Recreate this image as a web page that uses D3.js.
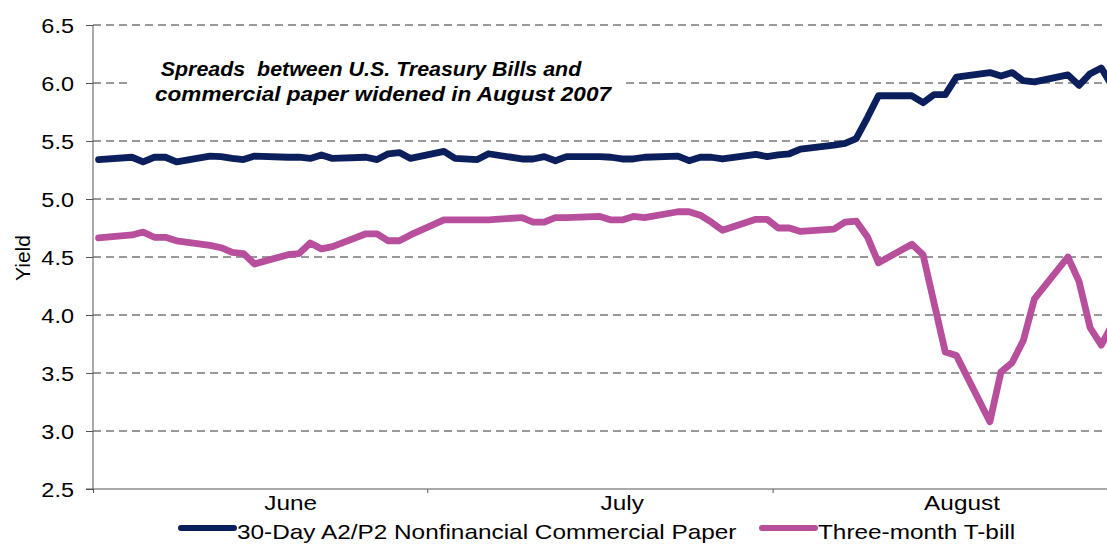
<!DOCTYPE html>
<html>
<head>
<meta charset="utf-8">
<script src="https://cdn.jsdelivr.net/npm/d3@7"></script>
<style>
  html, body { margin: 0; padding: 0; background: #fff; overflow: hidden; }
  svg { display: block; font-family: "Liberation Sans", Arial, sans-serif; }
</style>
</head>
<body>
<svg id="chart" width="1107" height="544"></svg>
<script>
// business days, June 1 - Aug 31 2007 (July 4 closed)
const dates = [
  '2007-06-01', '2007-06-04', '2007-06-05', '2007-06-06', '2007-06-07', '2007-06-08',
  '2007-06-11', '2007-06-12', '2007-06-13', '2007-06-14', '2007-06-15',
  '2007-06-18', '2007-06-19', '2007-06-20', '2007-06-21', '2007-06-22',
  '2007-06-25', '2007-06-26', '2007-06-27', '2007-06-28', '2007-06-29',
  '2007-07-02', '2007-07-03', '2007-07-05', '2007-07-06',
  '2007-07-09', '2007-07-10', '2007-07-11', '2007-07-12', '2007-07-13',
  '2007-07-16', '2007-07-17', '2007-07-18', '2007-07-19', '2007-07-20',
  '2007-07-23', '2007-07-24', '2007-07-25', '2007-07-26', '2007-07-27',
  '2007-07-30', '2007-07-31', '2007-08-01', '2007-08-02', '2007-08-03',
  '2007-08-06', '2007-08-07', '2007-08-08', '2007-08-09', '2007-08-10',
  '2007-08-13', '2007-08-14', '2007-08-15', '2007-08-16', '2007-08-17',
  '2007-08-20', '2007-08-21', '2007-08-22', '2007-08-23', '2007-08-24',
  '2007-08-27', '2007-08-28', '2007-08-29', '2007-08-30', '2007-08-31'
];

const paperYield = [
  5.34, 5.36, 5.32, 5.36, 5.36, 5.32,
  5.37, 5.365, 5.35, 5.34, 5.37,
  5.36, 5.36, 5.35, 5.38, 5.35,
  5.36, 5.34, 5.39, 5.40, 5.35,
  5.41, 5.35, 5.34, 5.39,
  5.345, 5.345, 5.365, 5.33, 5.365,
  5.365, 5.36, 5.345, 5.345, 5.36,
  5.37, 5.33, 5.36, 5.36, 5.345,
  5.385, 5.365, 5.38, 5.39, 5.43,
  5.465, 5.48, 5.52, 5.70, 5.89,
  5.89, 5.83, 5.90, 5.90, 6.05,
  6.09, 6.06, 6.09, 6.02, 6.01,
  6.07, 5.98, 6.08, 6.13, 5.97
];

const billYield = [
  4.665, 4.69, 4.715, 4.67, 4.67, 4.64,
  4.60, 4.58, 4.54, 4.53, 4.44,
  4.52, 4.53, 4.62, 4.57, 4.59,
  4.70, 4.70, 4.64, 4.64, 4.69,
  4.82, 4.82, 4.82, 4.82,
  4.84, 4.80, 4.80, 4.84, 4.84,
  4.85, 4.82, 4.82, 4.85, 4.84,
  4.89, 4.89, 4.86, 4.80, 4.73,
  4.825, 4.825, 4.75, 4.75, 4.72,
  4.74, 4.80, 4.81, 4.675, 4.45,
  4.61, 4.52, 4.10, 3.68, 3.65,
  3.08, 3.51, 3.59, 3.78, 4.14,
  4.50, 4.29, 3.89, 3.74, 3.92
];

const yTicks = [2.5, 3.0, 3.5, 4.0, 4.5, 5.0, 5.5, 6.0, 6.5];
const monthLabels = ['June', 'July', 'August'];
const monthLabelDates = ['2007-06-18 18', '2007-07-18 12', '2007-08-18 00'];
const seriesNames = ['30-Day A2/P2 Nonfinancial Commercial Paper', 'Three-month T-bill'];
const seriesColors = ['#0b1f5c', '#b84f9c'];
const noteLines = ['Spreads  between U.S. Treasury Bills and', 'commercial paper widened in August 2007'];

const SX = 1.12; // source picture is a little stretched sideways
const SX_LEGEND = 1.16;

const parseDay = d3.timeParse('%Y-%m-%d');
const parseHour = d3.timeParse('%Y-%m-%d %H');

const svg = d3.select('#chart');
const plotLeft = 93, plotTop = 25, plotBottom = 489, plotRight = 1118;

const x = d3.scaleTime()
  .domain([new Date(2007, 5, 1), new Date(2007, 8, 1)])
  .range([plotLeft, plotRight]);

const y = d3.scaleLinear()
  .domain([2.5, 6.5])
  .range([plotBottom, plotTop]);

// gridlines
svg.append('g')
  .selectAll('line')
  .data(yTicks.filter(v => v > 2.5))
  .enter()
  .append('line')
  .attr('x1', plotLeft)
  .attr('x2', plotRight)
  .attr('y1', d => y(d))
  .attr('y2', d => y(d))
  .attr('stroke', '#333')
  .attr('stroke-width', 1)
  .attr('stroke-dasharray', '8,5');

// y axis
const yAxis = svg.append('g')
  .attr('transform', `translate(${plotLeft},0)`)
  .call(d3.axisLeft(y).tickValues(yTicks).tickSize(7).tickFormat(d3.format('.1f')));
yAxis.select('.domain').attr('stroke', '#555').attr('d', `M0,${plotTop}V${plotBottom}`);
yAxis.selectAll('.tick line').attr('stroke', '#555');
yAxis.selectAll('.tick text')
  .attr('x', null)
  .attr('dy', '0.35em')
  .attr('transform', `translate(-19,0) scale(${SX},1)`)
  .attr('font-size', 21)
  .attr('fill', '#000');

// x axis
const xAxis = svg.append('g')
  .attr('transform', `translate(0,${plotBottom})`)
  .call(d3.axisBottom(x).ticks(d3.timeMonth.every(1)).tickSize(4).tickFormat(''));
xAxis.select('.domain').attr('stroke', '#555').attr('d', `M${plotLeft - 7},0H${plotRight}`);
xAxis.selectAll('.tick line').attr('stroke', '#555');

svg.append('g')
  .selectAll('text')
  .data(monthLabels)
  .enter()
  .append('text')
  .attr('transform', (d, i) => `translate(${x(parseHour(monthLabelDates[i]))},510) scale(${SX_LEGEND},1)`)
  .attr('text-anchor', 'middle')
  .attr('font-size', 21)
  .text(d => d);

svg.append('text')
  .attr('transform', 'translate(30,258) rotate(-90)')
  .attr('text-anchor', 'middle')
  .attr('font-size', 21)
  .text('Yield');

// note box
svg.append('rect')
  .attr('x', 130).attr('y', 48)
  .attr('width', 495).attr('height', 66)
  .attr('fill', '#fff');

const noteX = [371, 383];
const noteScale = [1.07, 1.13];
svg.append('g')
  .selectAll('text')
  .data(noteLines)
  .enter()
  .append('text')
  .attr('transform', (d, i) => `translate(${noteX[i]},${76 + i * 25}) scale(${noteScale[i]},1)`)
  .attr('text-anchor', 'middle')
  .attr('font-size', 20)
  .attr('font-weight', 'bold')
  .attr('font-style', 'italic')
  .style('white-space', 'pre')
  .text(d => d);

// series
const points = dates.map(d => d3.timeHour.offset(parseDay(d), 12));
const line = d3.line()
  .x((d, i) => x(points[i]))
  .y(d => y(d));

[paperYield, billYield].forEach((values, k) => {
  svg.append('path')
    .datum(values)
    .attr('d', line)
    .attr('fill', 'none')
    .attr('stroke', seriesColors[k])
    .attr('stroke-width', 6.8)
    .attr('stroke-linejoin', 'round')
    .attr('stroke-linecap', 'round');
});

// legend
const legendX = [181, 762];
const legend = svg.append('g')
  .selectAll('g')
  .data(seriesNames)
  .enter()
  .append('g');
legend.append('line')
  .attr('x1', (d, i) => legendX[i])
  .attr('x2', (d, i) => legendX[i] + 53)
  .attr('y1', 528).attr('y2', 528)
  .attr('stroke', (d, i) => seriesColors[i])
  .attr('stroke-width', 6)
  .attr('stroke-linecap', 'round');
legend.append('text')
  .attr('transform', (d, i) => `translate(${legendX[i] + 56},539) scale(${SX_LEGEND},1)`)
  .attr('font-size', 21)
  .text(d => d);
</script>
</body>
</html>
